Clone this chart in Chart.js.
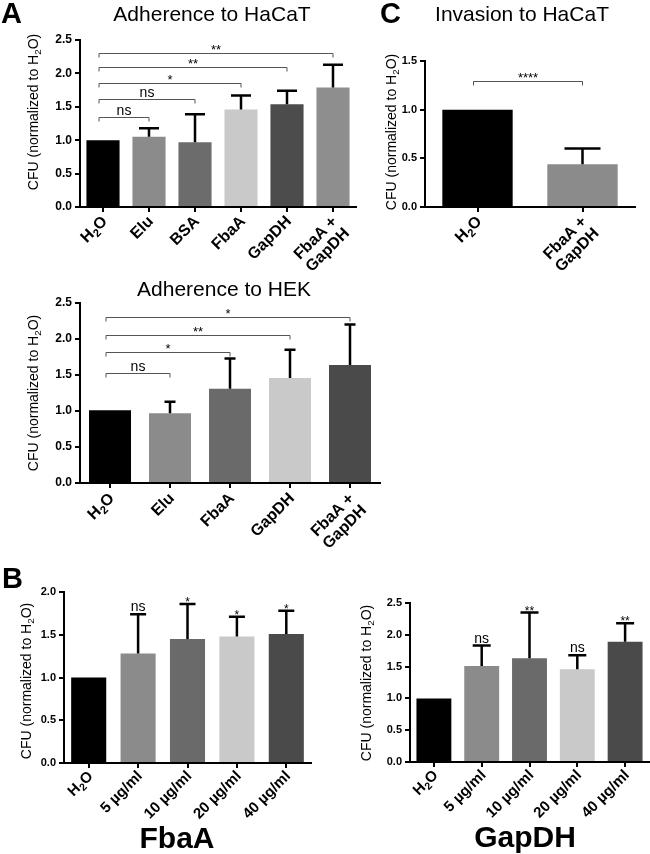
<!DOCTYPE html>
<html><head><meta charset="utf-8">
<script src="https://cdn.jsdelivr.net/npm/chart.js@4.4.1/dist/chart.umd.min.js"></script>
<style>
html,body{margin:0;padding:0;background:#fff;}
#wrap{position:relative;width:650px;height:854px;overflow:hidden;background:#fff;}
canvas{position:absolute;}
</style></head><body><div id="wrap"></div>
<script>
// ---------- DATA ----------
const hacatCategories = ['H2O', 'Elu', 'BSA', 'FbaA', 'GapDH', 'FbaA +\nGapDH'];
const hacatValues = [1.00, 1.05, 0.97, 1.46, 1.54, 1.79];
const hacatErrors = [0, 0.13, 0.42, 0.21, 0.20, 0.34];
const hacatSigTargets = [1, 2, 3, 4, 5];
const hacatSigLevels = [1.35, 1.62, 1.86, 2.09, 2.31];
const hacatSigLabels = ['ns', 'ns', '*', '**', '**'];

const invasionCategories = ['H2O', 'FbaA +\nGapDH'];
const invasionValues = [1.00, 0.44];
const invasionErrors = [0, 0.16];
const invasionSigTargets = [1];
const invasionSigLevels = [1.29];
const invasionSigLabels = ['****'];

const hekCategories = ['H2O', 'Elu', 'FbaA', 'GapDH', 'FbaA +\nGapDH'];
const hekValues = [1.01, 0.97, 1.31, 1.46, 1.64];
const hekErrors = [0, 0.16, 0.42, 0.39, 0.56];
const hekSigTargets = [1, 2, 3, 4];
const hekSigLevels = [1.53, 1.82, 2.06, 2.30];
const hekSigLabels = ['ns', '*', '**', '*'];

const doseCategories = ['H2O', '5 µg/ml', '10 µg/ml', '20 µg/ml', '40 µg/ml'];
const fbaaValues = [1.00, 1.28, 1.45, 1.48, 1.51];
const fbaaErrors = [0, 0.46, 0.41, 0.23, 0.27];
const fbaaMarks = ['', 'ns', '*', '*', '*'];
const gapdhValues = [1.00, 1.51, 1.63, 1.46, 1.89];
const gapdhErrors = [0, 0.32, 0.72, 0.22, 0.29];
const gapdhMarks = ['', 'ns', '**', 'ns', '**'];

const yTickStep = 0.5;
const hacatYMax = 2.5, invasionYMax = 1.5, hekYMax = 2.5, fbaaYMax = 2.0, gapdhYMax = 2.5;
const yAxisTitle = 'CFU (normalized to H2O)';

// ---------- STYLE ----------
const FONT = '"Liberation Sans", Arial, Helvetica, sans-serif';
const hacatColors = ['#000000', '#8b8b8b', '#6c6c6c', '#c9c9c9', '#4c4c4c', '#8e8e8e'];
const invasionColors = ['#000000', '#8b8b8b'];
const fiveColors = ['#000000', '#8b8b8b', '#6a6a6a', '#c9c9c9', '#4a4a4a'];

function richParts(text) {
  const segs = text.split('H2O');
  const parts = [];
  segs.forEach((s, i) => {
    if (i > 0) { parts.push({t: 'H'}); parts.push({t: '2', sub: true}); parts.push({t: 'O'}); }
    if (s) parts.push({t: s});
  });
  return parts;
}
function richWidth(ctx, parts, size, weight) {
  let w = 0;
  parts.forEach(p => {
    ctx.font = `${weight} ${p.sub ? size * 0.7 : size}px ${FONT}`;
    w += ctx.measureText(p.t).width;
  });
  return w;
}
function drawRich(ctx, text, x, y, size, weight, align) {
  const parts = richParts(text);
  const W = richWidth(ctx, parts, size, weight);
  let cx = align === 'right' ? x - W : align === 'center' ? x - W / 2 : x;
  ctx.textAlign = 'left';
  parts.forEach(p => {
    const s = p.sub ? size * 0.7 : size;
    ctx.font = `${weight} ${s}px ${FONT}`;
    ctx.fillText(p.t, cx, y + (p.sub ? size * 0.3 : 0));
    cx += ctx.measureText(p.t).width;
  });
}

function makePanel(p) {
  const wrap = document.getElementById('wrap');
  const cv = document.createElement('canvas');
  const [bx, by, bw, bh] = p.box;
  cv.width = bw; cv.height = bh;
  cv.style.left = bx + 'px'; cv.style.top = by + 'px';
  cv.style.width = bw + 'px'; cv.style.height = bh + 'px';
  wrap.appendChild(cv);
  const YW = 40;
  const [L, T, R, B] = p.plot;
  const pad = {left: L - bx - YW, top: T - by, right: bx + bw - R, bottom: by + bh - B};

  const decor = {
    id: 'decor_' + p.id,
    afterDatasetsDraw(chart) {
      const ctx = chart.ctx;
      const xs = chart.scales.x, ys = chart.scales.y;
      const meta = chart.getDatasetMeta(0);
      const area = chart.chartArea;
      ctx.save();
      // error bars
      ctx.strokeStyle = '#000'; ctx.lineWidth = p.errW; ctx.lineCap = 'butt';
      meta.data.forEach((el, i) => {
        const e = p.errors[i];
        if (!e) return;
        const yt = ys.getPixelForValue(p.values[i] + e);
        ctx.beginPath();
        ctx.moveTo(el.x, el.y); ctx.lineTo(el.x, yt);
        ctx.moveTo(el.x - p.cap / 2, yt); ctx.lineTo(el.x + p.cap / 2, yt);
        ctx.stroke();
      });
      // marks above bars
      ctx.fillStyle = '#000';
      if (p.marks) {
        meta.data.forEach((el, i) => {
          const m = p.marks[i];
          if (!m) return;
          const yt = ys.getPixelForValue(p.values[i] + (p.errors[i] || 0));
          const star = /^\*+$/.test(m);
          ctx.font = `${star ? p.starSize : p.nsSize}px ${FONT}`;
          ctx.textAlign = 'center'; ctx.textBaseline = 'alphabetic';
          ctx.fillText(m, el.x, yt + (star ? 2 : -3));
        });
      }
      // significance brackets
      if (p.sigTargets) {
        ctx.strokeStyle = '#555'; ctx.lineWidth = 1;
        p.sigTargets.forEach((t, k) => {
          const x1 = xs.getPixelForValue(0) - 4, x2 = xs.getPixelForValue(t);
          const y = Math.round(ys.getPixelForValue(p.sigLevels[k])) + 0.5;
          ctx.beginPath();
          ctx.moveTo(x1, y + 4); ctx.lineTo(x1, y); ctx.lineTo(x2, y); ctx.lineTo(x2, y + 4);
          ctx.stroke();
          const lab = p.sigLabels[k];
          const star = /^\*+$/.test(lab);
          ctx.font = `${star ? p.starSize : p.nsSize}px ${FONT}`;
          ctx.textAlign = 'center'; ctx.textBaseline = 'alphabetic';
          ctx.fillText(lab, (x1 + x2) / 2, y + (star ? 0 : -3));
        });
      }
      // x labels (rotated)
      ctx.fillStyle = '#000';
      ctx.textBaseline = 'middle';
      p.categories.forEach((c, i) => {
        const x = xs.getPixelForValue(i);
        ctx.save();
        ctx.translate(x + p.xdx, area.bottom + p.xdy);
        ctx.rotate(-p.xAngle * Math.PI / 180);
        const lines = c.split('\n');
        const ws = lines.map(l => richWidth(ctx, richParts(l), p.xFont, 'bold'));
        const maxW = Math.max(...ws);
        lines.forEach((l, j) => drawRich(ctx, l, -maxW / 2, j * p.xLine, p.xFont, 'bold', 'center'));
        ctx.restore();
      });
      // y title
      ctx.save();
      ctx.translate(p.yTitle[0] - bx, p.yTitle[1] - by);
      ctx.rotate(-Math.PI / 2);
      ctx.textBaseline = 'middle';
      drawRich(ctx, yAxisTitle, 0, 0, p.yTitleSize, 'normal', 'center');
      ctx.restore();
      // free texts
      ctx.textBaseline = 'alphabetic';
      (p.texts || []).forEach(t => {
        ctx.font = `${t.weight} ${t.size}px ${FONT}`;
        ctx.textAlign = t.align;
        ctx.fillText(t.text, t.x - bx, t.y - by);
      });
      ctx.restore();
    }
  };

  new Chart(cv, {
    type: 'bar',
    data: {
      labels: p.categories,
      datasets: [{data: p.values, backgroundColor: p.colors, borderWidth: 0,
        barPercentage: p.barPct, categoryPercentage: 1}]
    },
    options: {
      responsive: false, maintainAspectRatio: false, animation: false, devicePixelRatio: 1,
      events: [],
      layout: {padding: pad},
      plugins: {legend: {display: false}, tooltip: {enabled: false}, title: {display: false}},
      scales: {
        x: {
          offset: true,
          ticks: {display: false},
          grid: {display: true, drawOnChartArea: false, drawTicks: true, tickLength: 5, color: '#000', lineWidth: 2, offset: false},
          border: {display: true, color: '#000', width: 2},
          afterFit: s => { s.height = 0; }
        },
        y: {
          min: 0, max: p.yMax,
          ticks: {stepSize: yTickStep, callback: v => Number(v).toFixed(1), color: '#000', padding: 3,
            font: {family: FONT, weight: 'bold', size: p.tickFont}},
          grid: {display: true, drawOnChartArea: false, drawTicks: true, tickLength: 5, color: '#000', lineWidth: 2},
          border: {display: true, color: '#000', width: 2},
          afterFit: s => { s.width = YW; }
        }
      }
    },
    plugins: [decor]
  });
}

makePanel({
  id: 'hacat', box: [0, 0, 360, 270], plot: [80, 40, 356, 207],
  categories: hacatCategories, values: hacatValues, errors: hacatErrors, colors: hacatColors,
  sigTargets: hacatSigTargets, sigLevels: hacatSigLevels, sigLabels: hacatSigLabels,
  yMax: hacatYMax, barPct: 0.72, cap: 20, errW: 2.5, tickFont: 12, xFont: 16, xLine: 17,
  xAngle: 45, xdx: 2, xdy: 12, yTitle: [34, 112], yTitleSize: 14, nsSize: 14, starSize: 13,
  texts: [
    {text: 'A', x: 1, y: 23, size: 29, weight: 'bold', align: 'left'},
    {text: 'Adherence to HaCaT', x: 212, y: 21, size: 21, weight: 'normal', align: 'center'}
  ]
});
makePanel({
  id: 'inv', box: [360, 0, 290, 270], plot: [425, 61, 635, 207],
  categories: invasionCategories, values: invasionValues, errors: invasionErrors, colors: invasionColors,
  sigTargets: invasionSigTargets, sigLevels: invasionSigLevels, sigLabels: invasionSigLabels,
  yMax: invasionYMax, barPct: 0.67, cap: 36, errW: 2.5, tickFont: 11, xFont: 16, xLine: 17,
  xAngle: 45, xdx: 2, xdy: 12, yTitle: [392, 132], yTitleSize: 14, nsSize: 14, starSize: 13,
  texts: [
    {text: 'C', x: 380, y: 23, size: 29, weight: 'bold', align: 'left'},
    {text: 'Invasion to HaCaT', x: 522, y: 21, size: 21, weight: 'normal', align: 'center'}
  ]
});
makePanel({
  id: 'hek', box: [0, 270, 400, 290], plot: [80, 303, 380, 483],
  categories: hekCategories, values: hekValues, errors: hekErrors, colors: fiveColors,
  sigTargets: hekSigTargets, sigLevels: hekSigLevels, sigLabels: hekSigLabels,
  yMax: hekYMax, barPct: 0.7, cap: 11, errW: 2.5, tickFont: 12, xFont: 16, xLine: 17,
  xAngle: 45, xdx: 2, xdy: 13, yTitle: [34, 393], yTitleSize: 14, nsSize: 14, starSize: 13,
  texts: [
    {text: 'Adherence to HEK', x: 224, y: 296, size: 21, weight: 'normal', align: 'center'}
  ]
});
makePanel({
  id: 'fbaa', box: [0, 560, 330, 294], plot: [64, 592, 311, 763],
  categories: doseCategories, values: fbaaValues, errors: fbaaErrors, colors: fiveColors,
  marks: fbaaMarks,
  yMax: fbaaYMax, barPct: 0.71, cap: 16, errW: 2.5, tickFont: 11, xFont: 15, xLine: 16,
  xAngle: 45, xdx: 2, xdy: 11, yTitle: [27, 681], yTitleSize: 14, nsSize: 14, starSize: 12,
  texts: [
    {text: 'B', x: 2, y: 588, size: 29, weight: 'bold', align: 'left'},
    {text: 'FbaA', x: 177, y: 848, size: 30, weight: 'bold', align: 'center'}
  ]
});
makePanel({
  id: 'gapdh', box: [330, 560, 320, 294], plot: [410, 603, 649, 762],
  categories: doseCategories, values: gapdhValues, errors: gapdhErrors, colors: fiveColors,
  marks: gapdhMarks,
  yMax: gapdhYMax, barPct: 0.73, cap: 18, errW: 2.5, tickFont: 11, xFont: 15, xLine: 16,
  xAngle: 45, xdx: 2, xdy: 11, yTitle: [367, 683], yTitleSize: 14, nsSize: 14, starSize: 12,
  texts: [
    {text: 'GapDH', x: 525, y: 847, size: 30, weight: 'bold', align: 'center'}
  ]
});
</script>
</body></html>
